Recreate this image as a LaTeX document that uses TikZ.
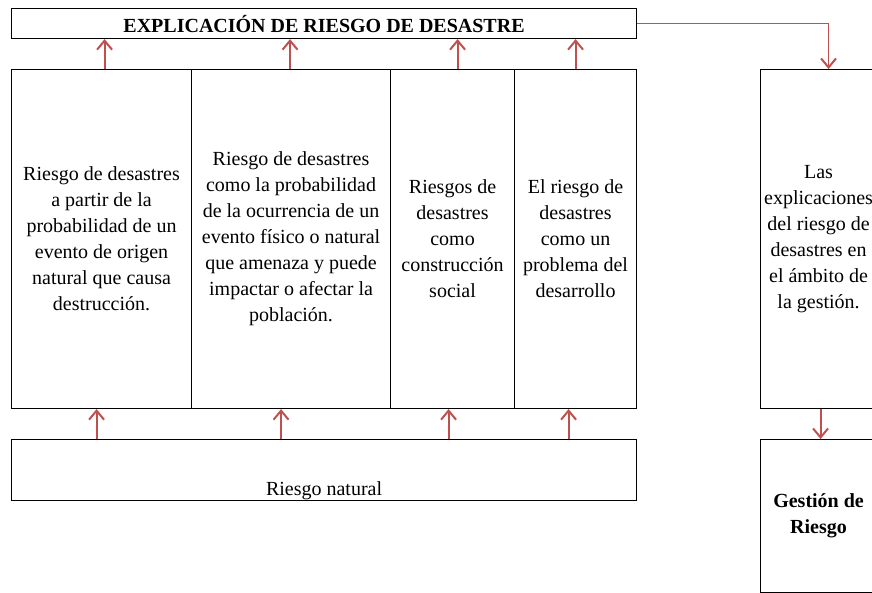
\documentclass[tikz,border=0pt]{standalone}
\usepackage{fontspec}
\setmainfont{Liberation Serif}
\usepackage{tikz}
\usetikzlibrary{calc, positioning, arrows.meta}
\definecolor{arrred}{RGB}{192,80,77}
\tikzstyle{box}=[draw, line width=1.1pt, shape=rectangle, anchor=north west, inner sep=0pt, align=center, font=\fontsize{20}{26}\selectfont]
\tikzstyle{arr}=[arrred, line width=2pt, -{Straight Barb[length=9pt, width=15pt, line width=2pt]}]
\tikzset{>=stealth}

\begin{document}
\begin{tikzpicture}[x=1pt, y=-1pt]
\useasboundingbox (0,0) rectangle (872,593);
\clip (0,0) rectangle (872,593);
% the title box
\node[box, minimum width=625pt, minimum height=30pt, font=\fontsize{20}{26}\selectfont\bfseries] (T) at (11,8) {EXPLICACI\'ON DE RIESGO DE DESASTRE};
% the four columns
\node[box, minimum width=180pt, minimum height=339pt] (C1) at (11,69) {Riesgo de desastres\\ a partir de la\\ probabilidad de un\\ evento de origen\\ natural que causa\\ destrucci\'on.};
\node[box, minimum width=199pt, minimum height=339pt] (C2) at (191,69) {Riesgo de desastres\\ como la probabilidad\\ de la ocurrencia de un\\ evento f\'isico o natural\\ que amenaza y puede\\ impactar o afectar la\\ poblaci\'on.};
\node[box, minimum width=124pt, minimum height=339pt] (C3) at (390,69) {Riesgos de\\ desastres\\ como\\ construcci\'on\\ social};
\node[box, minimum width=122pt, minimum height=339pt] (C4) at (514,69) {El riesgo de\\ desastres\\ como un\\ problema del\\ desarrollo};
% the base box
\node[box, minimum width=625pt, minimum height=61pt, label={[anchor=south, inner sep=1.5pt, font=\fontsize{20}{26}\selectfont]south:Riesgo natural}] (B) at (11,439) {};
% the right hand boxes
\node[box, minimum width=116pt, minimum height=339pt] (R1) at (760,69) {Las\\ explicaciones\\ del riesgo de\\ desastres en\\ el \'ambito de\\ la gesti\'on.};
\node[box, minimum width=116pt, minimum height=153pt, font=\fontsize{20}{26}\selectfont\bfseries] (R2) at (760,439) {Gesti\'on de\\ Riesgo};
% the arrows up to the title
\draw[arr] ([xshift=3pt]C1.north) -- ([xshift=3pt]C1.north |- T.south);
\draw[arr] ([xshift=-1pt]C2.north) -- ([xshift=-1pt]C2.north |- T.south);
\draw[arr] ([xshift=5pt]C3.north) -- ([xshift=5pt]C3.north |- T.south);
\draw[arr] (C4.north) -- (C4.north |- T.south);
% the arrows up from the base
\draw[arr] ([xshift=-5pt]C1.south |- B.north) -- ([xshift=-5pt]C1.south);
\draw[arr] ([xshift=-10pt]C2.south |- B.north) -- ([xshift=-10pt]C2.south);
\draw[arr] ([xshift=-4pt]C3.south |- B.north) -- ([xshift=-4pt]C3.south);
\draw[arr] ([xshift=-7pt]C4.south |- B.north) -- ([xshift=-7pt]C4.south);
% the right hand side
\draw[arr, line width=1.3pt] (T.east) -| ([xshift=10pt]R1.north);
\draw[arr] ([xshift=2pt]R1.south) -- ([xshift=2pt]R2.north);
\end{tikzpicture}
\end{document}
